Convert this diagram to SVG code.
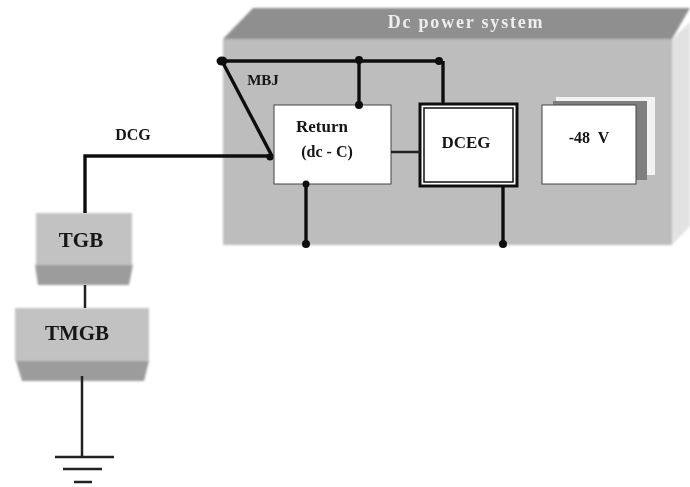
<svg xmlns="http://www.w3.org/2000/svg" width="690" height="487" viewBox="0 0 690 487">
<defs>
<filter id="b" x="-5%" y="-5%" width="110%" height="110%"><feGaussianBlur stdDeviation="1"/></filter>
<filter id="s" x="-5%" y="-5%" width="110%" height="110%"><feGaussianBlur stdDeviation="0.5"/></filter>
</defs>
<style>
.t{font-family:"Liberation Serif",serif;font-weight:bold;fill:#151515;text-anchor:middle}
.w{fill:#fff;stroke:#444;stroke-width:1}
.l{fill:none;stroke:#111;stroke-width:3.4}
.n{fill:none;stroke:#222;stroke-width:2.5}
.d{fill:#111}
.f{fill:#c2c2c2}
.e{fill:#9c9c9c}
</style>
<rect width="690" height="487" fill="#fff"/>
<g id="dc-power-system">
<g filter="url(#b)">
<polygon points="223,39 253,8 690,8 672,39" fill="#8f8f8f"/>
<polygon points="672,39 690,22 690,226 672,245" fill="#e2e2e2"/>
<rect x="223" y="39" width="449" height="206" fill="#bdbdbd"/>
</g>
<text filter="url(#s)" x="466" y="28" font-family="Liberation Serif,serif" font-weight="bold" font-size="18" letter-spacing="1.8" fill="#eee" text-anchor="middle">Dc power system</text>
</g>
<g id="minus48v" filter="url(#s)">
<rect x="556" y="97" width="99" height="78" fill="#f2f2f2"/>
<rect x="553" y="101" width="94" height="79" fill="#7f7f7f"/>
<rect class="w" x="542" y="105" width="94" height="79"/>
<text class="t" x="589" y="143" font-size="16" xml:space="preserve">-48  V</text>
</g>
<g id="return" filter="url(#s)">
<rect class="w" x="274" y="105" width="117" height="79"/>
<text class="t" x="322" y="132" font-size="17">Return</text>
<text class="t" x="327" y="157" font-size="16" xml:space="preserve">(dc - C)</text>
</g>
<g id="dceg" filter="url(#s)">
<rect x="420" y="104" width="97" height="82" fill="#fff" stroke="#111" stroke-width="3"/>
<rect x="424" y="108" width="89" height="74" fill="#fff" stroke="#111" stroke-width="1.5"/>
<text class="t" x="466" y="148" font-size="17">DCEG</text>
</g>
<g id="tgb">
<g filter="url(#b)">
<rect class="f" x="36" y="213" width="96" height="52"/>
<polygon class="e" points="35,265 133,265 129,285 38,285"/>
</g>
<text filter="url(#s)" class="t" x="81" y="247" font-size="21">TGB</text>
</g>
<g id="tmgb">
<g filter="url(#b)">
<rect class="f" x="15" y="308" width="134" height="53"/>
<polygon class="e" points="16,361 149,361 144,381 22,381"/>
</g>
<text filter="url(#s)" class="t" x="77" y="340" font-size="21">TMGB</text>
</g>
<g id="connectors" filter="url(#s)">
<path class="l" d="M222,61H440"/>
<path class="l" d="M222,61L272,156"/>
<path class="l" d="M359,61V105"/>
<path class="l" d="M443,61V104"/>
<path class="l" d="M306,184V244"/>
<path class="l" d="M503,186V244"/>
<path class="n" d="M391,152H420"/>
<path class="l" d="M85,213V156H270"/>
<path class="n" d="M85,285V308"/>
<path class="n" d="M82,376V457"/>
<path class="n" d="M55,457H114M63,469H102M74,482H92"/>
<ellipse class="d" cx="222" cy="61" rx="5.5" ry="4.5"/>
<circle class="d" cx="359" cy="60" r="4"/>
<circle class="d" cx="439" cy="61" r="4"/>
<circle class="d" cx="359" cy="105" r="4"/>
<circle class="d" cx="270" cy="157" r="3.5"/>
<circle class="d" cx="306" cy="184" r="3.5"/>
<circle class="d" cx="306" cy="244" r="4"/>
<circle class="d" cx="503" cy="244" r="4"/>
</g>
<g id="labels" filter="url(#s)">
<text class="t" x="133" y="140" font-size="16">DCG</text>
<text class="t" x="263" y="85" font-size="15">MBJ</text>
</g>
</svg>
